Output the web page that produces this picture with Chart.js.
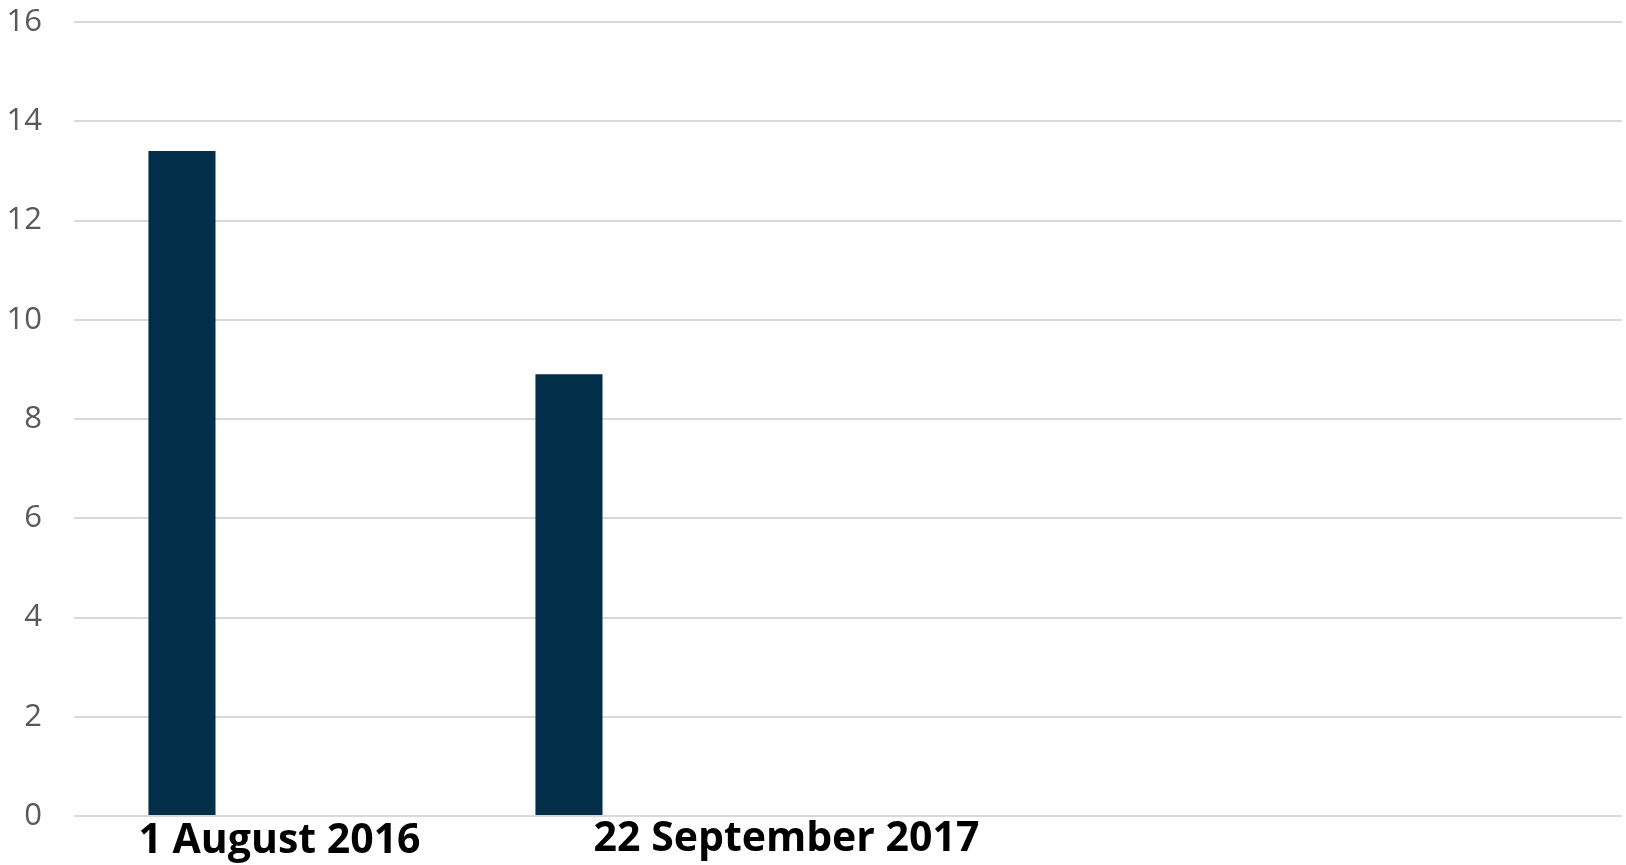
<!DOCTYPE html>
<html>
<head>
<meta charset="utf-8">
<title>Chart</title>
<script src="https://cdn.jsdelivr.net/npm/chart.js@4.4.0/dist/chart.umd.min.js"></script>
<style>
    html, body { margin: 0; padding: 0; background: #ffffff; }
    #wrap { width: 1626px; height: 865px; }
</style>
</head>
<body>
<div id="wrap"><canvas id="barChart"></canvas></div>
<script>
// Chart data
const categories = ['1 August 2016', '22 September 2017', '', ''];
const seriesValues = [13.4, 8.9, null, null];
const emptySeries = [null, null, null, null]; // second series, no values
const yTicks = [0, 2, 4, 6, 8, 10, 12, 14, 16];

// category labels are drawn by hand because each one sits at its own offset
const labelShift = [12, 132];
const labelBaseline = [853, 851];

const categoryLabels = {
    id: 'categoryLabels',
    afterDraw(chart) {
        const ctx = chart.ctx;
        const xScale = chart.scales.x;
        ctx.save();
        ctx.font = 'bold 41px "Open Sans"';
        ctx.fillStyle = '#000000';
        ctx.textAlign = 'center';
        ctx.textBaseline = 'alphabetic';
        categories.forEach((label, i) => {
            if (!label) return;
            const x = xScale.getPixelForValue(i) + labelShift[i];
            ctx.fillText(label, x, labelBaseline[i]);
        });
        ctx.restore();
    }
};

function initializeChart() {
    const ctx = document.getElementById('barChart');
    new Chart(ctx, {
        type: 'bar',
        data: {
            labels: categories,
            datasets: [{
                label: 'Series 1',
                data: seriesValues,
                backgroundColor: '#032e4a',
                categoryPercentage: 0.884,
                barPercentage: 0.392
            }, {
                label: 'Series 2',
                data: emptySeries,
                backgroundColor: '#7f7f7f',
                categoryPercentage: 0.884,
                barPercentage: 0.392
            }]
        },
        options: {
            responsive: true,
            maintainAspectRatio: false,
            animation: false,
            layout: {
                padding: { top: 22, right: 4, left: 0, bottom: 0 }
            },
            plugins: {
                legend: { display: false },
                tooltip: { enabled: false },
                title: { display: false }
            },
            scales: {
                x: {
                    grid: { display: false, drawTicks: false },
                    border: { display: false },
                    ticks: { display: false },
                    afterFit(scale) { scale.height = 49; }
                },
                y: {
                    min: 0,
                    max: 16,
                    afterBuildTicks(scale) {
                        scale.ticks = yTicks.map(v => ({ value: v }));
                    },
                    grid: {
                        color: '#d9d9d9',
                        lineWidth: 2,
                        drawTicks: false
                    },
                    border: { display: false },
                    ticks: {
                        color: '#595959',
                        padding: 32,
                        font: { family: '"Open Sans"', size: 31 }
                    },
                    afterFit(scale) {
                        scale.width = 74;
                        scale.paddingTop = 0;
                        scale.paddingBottom = 0;
                    }
                }
            }
        },
        plugins: [categoryLabels]
    });
}

document.addEventListener('DOMContentLoaded', initializeChart);
</script>
</body>
</html>
